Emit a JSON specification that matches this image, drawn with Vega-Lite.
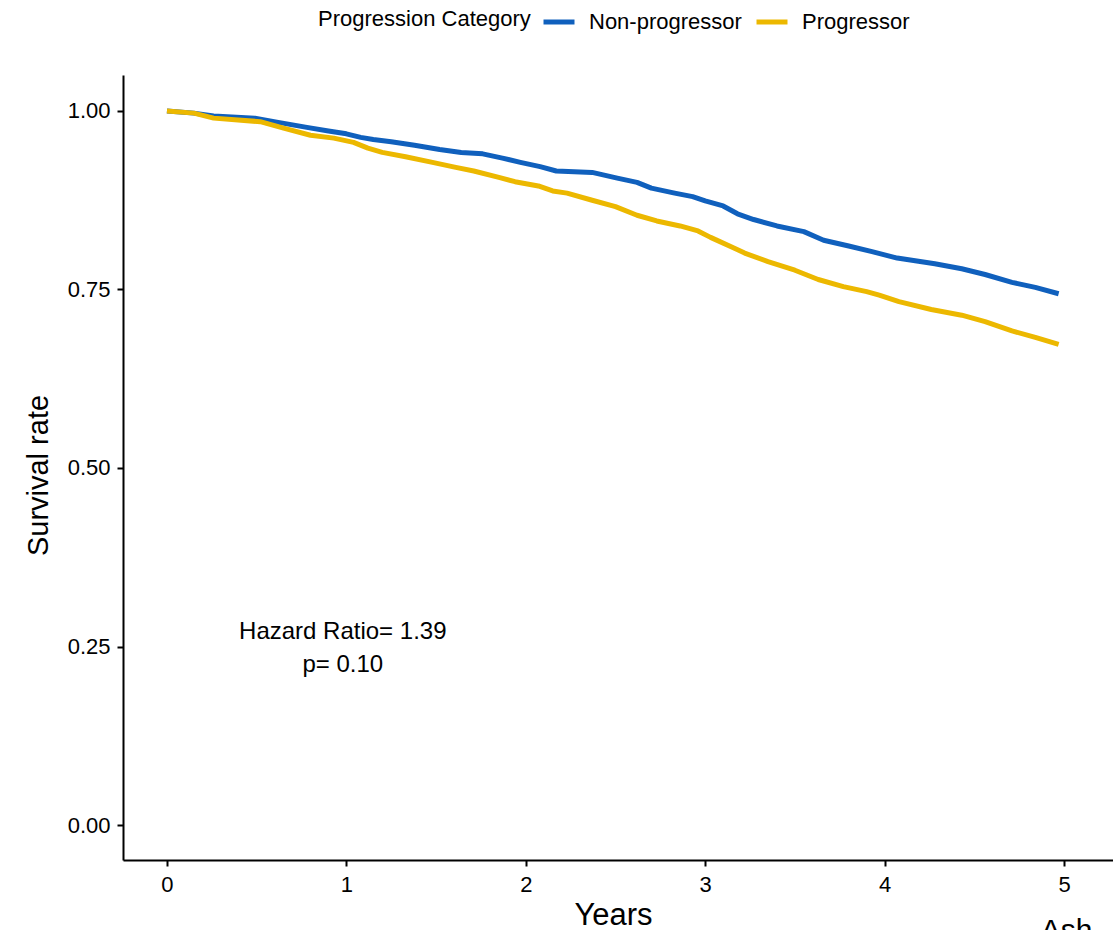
{
  "$schema": "https://vega.github.io/schema/vega-lite/v6.json",
  "width": 990,
  "height": 785,
  "autosize": {"type": "none"},
  "padding": {"left": 123, "top": 75, "right": 0, "bottom": 70},
  "background": "white",
  "config": {
    "view": {"stroke": null},
    "font": "Liberation Sans",
    "axis": {
      "grid": false,
      "domainColor": "black",
      "domainWidth": 2,
      "tickColor": "black",
      "tickWidth": 2,
      "tickSize": 6,
      "labelFontSize": 22,
      "labelColor": "black",
      "labelFont": "Liberation Sans",
      "titleFont": "Liberation Sans",
      "titleFontSize": 29,
      "titleFontWeight": "normal",
      "titleColor": "black"
    },
    "legend": {
      "labelFont": "Liberation Sans",
      "titleFont": "Liberation Sans"
    }
  },
  "layer": [
    {
      "data": {
        "values": [
          {"group": "Non-progressor", "t": 0, "surv": 1.0},
          {"group": "Non-progressor", "t": 0.15, "surv": 0.997},
          {"group": "Non-progressor", "t": 0.26, "surv": 0.993},
          {"group": "Non-progressor", "t": 0.49, "surv": 0.99},
          {"group": "Non-progressor", "t": 0.62, "surv": 0.984},
          {"group": "Non-progressor", "t": 0.78, "surv": 0.977},
          {"group": "Non-progressor", "t": 0.9, "surv": 0.972},
          {"group": "Non-progressor", "t": 1.0, "surv": 0.968},
          {"group": "Non-progressor", "t": 1.08, "surv": 0.963},
          {"group": "Non-progressor", "t": 1.15, "surv": 0.96},
          {"group": "Non-progressor", "t": 1.25, "surv": 0.957},
          {"group": "Non-progressor", "t": 1.38, "surv": 0.952},
          {"group": "Non-progressor", "t": 1.52, "surv": 0.946},
          {"group": "Non-progressor", "t": 1.64, "surv": 0.942},
          {"group": "Non-progressor", "t": 1.76, "surv": 0.94},
          {"group": "Non-progressor", "t": 1.87, "surv": 0.934},
          {"group": "Non-progressor", "t": 1.97, "surv": 0.928},
          {"group": "Non-progressor", "t": 2.08, "surv": 0.922},
          {"group": "Non-progressor", "t": 2.17, "surv": 0.916},
          {"group": "Non-progressor", "t": 2.37, "surv": 0.914},
          {"group": "Non-progressor", "t": 2.51, "surv": 0.906},
          {"group": "Non-progressor", "t": 2.62, "surv": 0.9},
          {"group": "Non-progressor", "t": 2.7, "surv": 0.892},
          {"group": "Non-progressor", "t": 2.83, "surv": 0.885},
          {"group": "Non-progressor", "t": 2.93, "surv": 0.88},
          {"group": "Non-progressor", "t": 3.0, "surv": 0.874},
          {"group": "Non-progressor", "t": 3.1, "surv": 0.867},
          {"group": "Non-progressor", "t": 3.18, "surv": 0.856},
          {"group": "Non-progressor", "t": 3.27, "surv": 0.848},
          {"group": "Non-progressor", "t": 3.4, "surv": 0.839},
          {"group": "Non-progressor", "t": 3.55, "surv": 0.831},
          {"group": "Non-progressor", "t": 3.66, "surv": 0.819},
          {"group": "Non-progressor", "t": 3.8, "surv": 0.811},
          {"group": "Non-progressor", "t": 3.93, "surv": 0.803},
          {"group": "Non-progressor", "t": 4.07, "surv": 0.794},
          {"group": "Non-progressor", "t": 4.28, "surv": 0.786},
          {"group": "Non-progressor", "t": 4.43, "surv": 0.779},
          {"group": "Non-progressor", "t": 4.56, "surv": 0.771},
          {"group": "Non-progressor", "t": 4.71, "surv": 0.76},
          {"group": "Non-progressor", "t": 4.84, "surv": 0.753},
          {"group": "Non-progressor", "t": 4.97, "surv": 0.744},
          {"group": "Progressor", "t": 0, "surv": 1.0},
          {"group": "Progressor", "t": 0.15, "surv": 0.997},
          {"group": "Progressor", "t": 0.26, "surv": 0.99},
          {"group": "Progressor", "t": 0.52, "surv": 0.985},
          {"group": "Progressor", "t": 0.65, "surv": 0.976},
          {"group": "Progressor", "t": 0.8, "surv": 0.966},
          {"group": "Progressor", "t": 0.93, "surv": 0.962},
          {"group": "Progressor", "t": 1.04, "surv": 0.956},
          {"group": "Progressor", "t": 1.12, "surv": 0.948},
          {"group": "Progressor", "t": 1.2, "surv": 0.942},
          {"group": "Progressor", "t": 1.33, "surv": 0.936},
          {"group": "Progressor", "t": 1.48, "surv": 0.928},
          {"group": "Progressor", "t": 1.61, "surv": 0.921},
          {"group": "Progressor", "t": 1.71, "surv": 0.916},
          {"group": "Progressor", "t": 1.85, "surv": 0.907},
          {"group": "Progressor", "t": 1.94, "surv": 0.901},
          {"group": "Progressor", "t": 2.07, "surv": 0.895},
          {"group": "Progressor", "t": 2.15, "surv": 0.888},
          {"group": "Progressor", "t": 2.23, "surv": 0.885},
          {"group": "Progressor", "t": 2.37, "surv": 0.875},
          {"group": "Progressor", "t": 2.5, "surv": 0.866},
          {"group": "Progressor", "t": 2.62, "surv": 0.854},
          {"group": "Progressor", "t": 2.73, "surv": 0.846},
          {"group": "Progressor", "t": 2.86, "surv": 0.839},
          {"group": "Progressor", "t": 2.96, "surv": 0.832},
          {"group": "Progressor", "t": 3.03, "surv": 0.823},
          {"group": "Progressor", "t": 3.16, "surv": 0.808},
          {"group": "Progressor", "t": 3.22, "surv": 0.801},
          {"group": "Progressor", "t": 3.35, "surv": 0.789},
          {"group": "Progressor", "t": 3.5, "surv": 0.777},
          {"group": "Progressor", "t": 3.63, "surv": 0.764},
          {"group": "Progressor", "t": 3.77, "surv": 0.754},
          {"group": "Progressor", "t": 3.9, "surv": 0.747},
          {"group": "Progressor", "t": 3.97, "surv": 0.742},
          {"group": "Progressor", "t": 4.08, "surv": 0.733},
          {"group": "Progressor", "t": 4.26, "surv": 0.722},
          {"group": "Progressor", "t": 4.43, "surv": 0.714},
          {"group": "Progressor", "t": 4.56, "surv": 0.705},
          {"group": "Progressor", "t": 4.71, "surv": 0.692},
          {"group": "Progressor", "t": 4.84, "surv": 0.683},
          {"group": "Progressor", "t": 4.97, "surv": 0.673}
        ]
      },
      "mark": {"type": "line", "interpolate": "linear", "strokeWidth": 5, "strokeJoin": "round"},
      "encoding": {
        "x": {
          "field": "t",
          "type": "quantitative",
          "scale": {"domain": [-0.245, 5.273], "nice": false, "zero": false},
          "axis": {"values": [0, 1, 2, 3, 4, 5], "format": "d", "title": "Years", "labelPadding": 8, "titlePadding": 5, "titleFontSize": 31, "titleX": 490}
        },
        "y": {
          "field": "surv",
          "type": "quantitative",
          "scale": {"domain": [-0.049, 1.0504], "nice": false, "zero": false},
          "axis": {"values": [0, 0.25, 0.5, 0.75, 1], "format": ".2f", "title": "Survival rate", "labelPadding": 7, "titlePadding": 14, "titleY": 400}
        },
        "color": {
          "field": "group",
          "type": "nominal",
          "scale": {"domain": ["Non-progressor", "Progressor"], "range": ["#1060BD", "#ECB800"]},
          "legend": {
            "title": "Progression Category",
            "orient": "none",
            "legendX": 195,
            "legendY": -71,
            "direction": "horizontal",
            "titleOrient": "left",
            "titleBaseline": "middle",
            "titleFontSize": 22,
            "titleFontWeight": "normal",
            "titleColor": "black",
            "titleLimit": 400,
            "titlePadding": 10,
            "labelFontSize": 22,
            "labelLimit": 300,
            "labelColor": "black",
            "labelOffset": 12,
            "symbolType": "stroke",
            "symbolStrokeWidth": 5,
            "symbolSize": 961,
            "columnPadding": 4
          }
        }
      }
    },
    {
      "data": {"values": [{}]},
      "mark": {"type": "text", "fontSize": 24, "lineHeight": 33, "align": "center", "baseline": "middle", "color": "black"},
      "encoding": {
        "x": {"datum": 0.98},
        "y": {"datum": 0.27},
        "text": {"value": ["Hazard Ratio= 1.39", "p= 0.10"]}
      }
    },
    {
      "data": {"values": [{}]},
      "mark": {"type": "text", "fontSize": 30, "align": "left", "baseline": "top", "color": "black"},
      "encoding": {
        "x": {"datum": 4.87},
        "y": {"datum": -0.128},
        "text": {"value": "Ash"}
      }
    }
  ]
}
